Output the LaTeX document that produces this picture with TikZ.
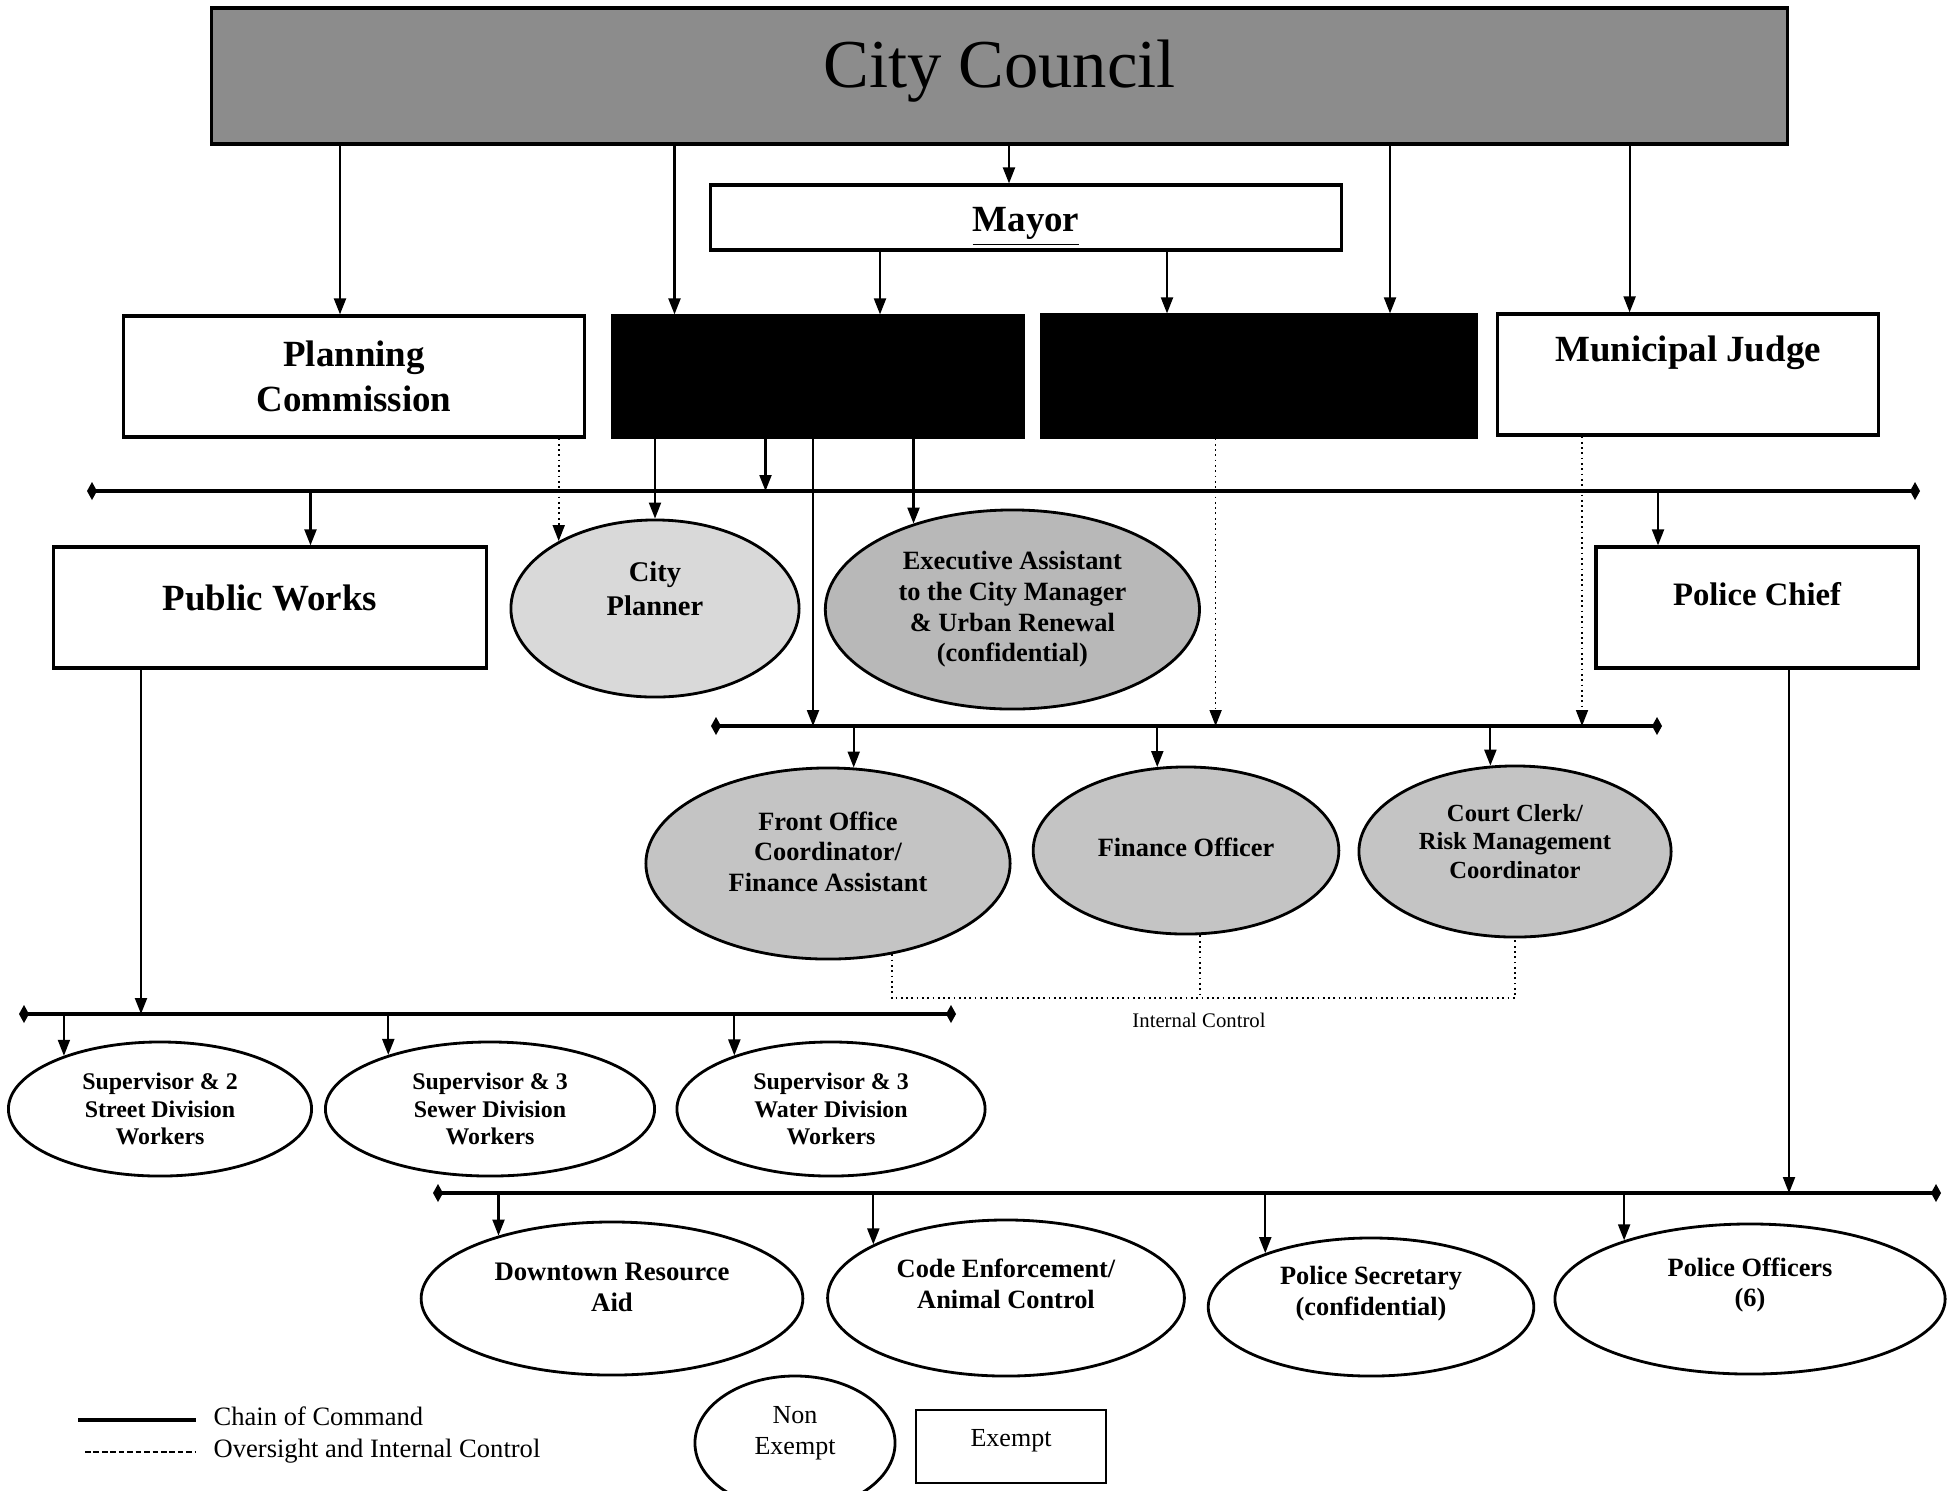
\documentclass[tikz,border=0pt]{standalone}
\usepackage{fontspec}
\setmainfont{Liberation Serif}
\usepackage{tikz}
\usetikzlibrary{arrows.meta, shapes.geometric}

\begin{document}
\begin{tikzpicture}[x=0.01cm, y=-0.01cm, >={Triangle[length=1.6mm, width=1.2mm]},
  box/.style={draw, line width=0.9pt, fill=white, inner sep=0pt, align=center, font=\bfseries\fontsize{10.5}{12.6}\selectfont},
  ell/.style={ellipse, draw, line width=0.8pt, fill=white, inner sep=0pt},
  lbl/.style={anchor=center, align=center, inner sep=0pt, font=\bfseries\fontsize{7.5}{8.7}\selectfont},
  cmd/.style={line width=0.6pt},
  oversight/.style={line width=0.5pt, densely dotted},
  bus/.style={line width=1.2pt, arrows={Diamond[length=1mm, width=1.8mm]-Diamond[length=1mm, width=1.8mm]}}]
  \useasboundingbox (0,0) rectangle (1955,1490);

  \node[box, fill=black!45, line width=1pt, minimum width=15.75cm, text height=0.79cm, text depth=0.57cm, font=\fontsize{19.5}{23}\selectfont] (council) at (999.5,76) {City Council};
  \node[box, minimum width=6.31cm, text height=0.467cm, text depth=0.183cm] (mayor) at (1026,217.5) {\underline{Mayor}};
  \node[box, minimum width=4.61cm, minimum height=1.21cm] (planning) at (354,376.5) {Planning\\Commission};
  \node[box, fill=black, minimum width=4.11cm, minimum height=1.21cm] (blacka) at (818,376.5) {};
  \node[box, fill=black, minimum width=4.34cm, minimum height=1.22cm] (blackb) at (1259,376) {};
  \node[box, minimum width=3.815cm, text height=0.475cm, text depth=0.735cm] (judge) at (1688,374.5) {Municipal Judge};

  \coordinate (bus1w) at (87,491);  \coordinate (bus1e) at (1920,491);
  \coordinate (bus2w) at (711,726); \coordinate (bus2e) at (1662,726);
  \coordinate (bus3w) at (19,1014); \coordinate (bus3e) at (956,1014);
  \coordinate (bus4w) at (433,1193); \coordinate (bus4e) at (1941,1193);
  \draw[bus] (bus1w) -- (bus1e);
  \draw[bus] (bus2w) -- (bus2e);
  \draw[bus] (bus3w) -- (bus3e);
  \draw[bus] (bus4w) -- (bus4e);

  \node[box, minimum width=4.33cm, text height=0.635cm, text depth=0.575cm] (publicworks) at (270,607.5) {Public Works};
  \node[box, minimum width=3.22cm, text height=0.585cm, text depth=0.625cm, font=\bfseries\fontsize{9.3}{11}\selectfont] (policechief) at (1757,607.5) {Police Chief};
  \node[ell, fill=black!15, minimum width=2.88cm, minimum height=1.77cm,
    label={[lbl, yshift=0.195cm, font=\bfseries\fontsize{8.1}{9.7}\selectfont]center:City\\Planner}] (cityplanner) at (655,608.5) {};
  \node[ell, fill=black!28, minimum width=3.74cm, minimum height=1.99cm,
    label={[lbl]center:Executive Assistant\\to the City Manager\\\& Urban Renewal\\(confidential)}] (exec) at (1012.4,609.5) {};

  \node[ell, fill=black!23, minimum width=3.64cm, minimum height=1.91cm,
    label={[lbl, yshift=0.12cm]center:Front Office\\Coordinator/\\Finance Assistant}] (frontoffice) at (828,863.5) {};
  \node[ell, fill=black!23, minimum width=3.055cm, minimum height=1.67cm,
    label={[lbl, yshift=0.03cm]center:Finance Officer}] (financeofficer) at (1186,850.5) {};
  \node[ell, fill=black!23, minimum width=3.12cm, minimum height=1.71cm,
    label={[lbl, yshift=0.1cm, font=\bfseries\fontsize{7}{8}\selectfont]center:Court Clerk/\\Risk Management\\Coordinator}] (courtclerk) at (1515,851.5) {};
  \coordinate (icjoin) at (1200,998);
  \node[inner sep=0pt, font=\fontsize{5.9}{7}\selectfont] (iclabel) at (1199,1020) {Internal Control};

  \node[ell, minimum width=3.03cm, minimum height=1.34cm,
    label={[lbl, font=\bfseries\fontsize{6.8}{7.8}\selectfont]center:Supervisor \& 2\\Street Division\\Workers}] (street) at (160,1109) {};
  \node[ell, minimum width=3.29cm, minimum height=1.34cm,
    label={[lbl, font=\bfseries\fontsize{6.8}{7.8}\selectfont]center:Supervisor \& 3\\Sewer Division\\Workers}] (sewer) at (490,1109) {};
  \node[ell, minimum width=3.08cm, minimum height=1.34cm,
    label={[lbl, font=\bfseries\fontsize{6.8}{7.8}\selectfont]center:Supervisor \& 3\\Water Division\\Workers}] (water) at (831,1109) {};

  \node[ell, minimum width=3.815cm, minimum height=1.53cm,
    label={[lbl, yshift=0.11cm, font=\bfseries\fontsize{7.6}{8.8}\selectfont]center:Downtown Resource\\Aid}] (downtown) at (612,1298.5) {};
  \node[ell, minimum width=3.566cm, minimum height=1.56cm,
    label={[lbl, yshift=0.14cm, font=\bfseries\fontsize{7.5}{8.8}\selectfont]center:Code Enforcement/\\Animal Control}] (codeenf) at (1006,1298) {};
  \node[ell, minimum width=3.254cm, minimum height=1.38cm,
    label={[lbl, yshift=0.13cm, font=\bfseries\fontsize{7.5}{8.8}\selectfont]center:Police Secretary\\(confidential)}] (policesec) at (1371,1307) {};
  \node[ell, minimum width=3.9cm, minimum height=1.5cm,
    label={[lbl, yshift=0.14cm, font=\bfseries\fontsize{7.5}{8.8}\selectfont]center:Police Officers\\(6)}] (policeoff) at (1750,1299) {};

  \node[ell, minimum width=2.0cm, minimum height=1.34cm,
    label={[lbl, yshift=0.1cm, font=\fontsize{7.4}{8.9}\selectfont]center:Non\\Exempt}] (nonexempt) at (795,1443) {};
  \node[box, line width=0.8pt, minimum width=1.9cm, text height=0.36cm, text depth=0.37cm, font=\fontsize{7.4}{8.9}\selectfont] (exempt) at (1011,1446.5) {Exempt};

  \coordinate (cmda) at (78,1420); \coordinate (cmdb) at (196,1420);
  \coordinate (ovsa) at (85,1452); \coordinate (ovsb) at (196,1452);
  \draw[line width=1.3pt] (cmda) -- (cmdb);
  \draw[line width=0.7pt, dash pattern=on 1.6pt off 0.8pt] (ovsa) -- (ovsb);
  \node[anchor=west, inner sep=0pt, font=\fontsize{7.55}{9}\selectfont] (cmdtxt) at (213,1416) {Chain of Command};
  \node[anchor=west, inner sep=0pt, font=\fontsize{7.55}{9}\selectfont] (ovstxt) at (213,1451) {Oversight and Internal Control};

  \draw[cmd, ->] (1009,0 |- council.south) -- (1009,0 |- mayor.north);
  \draw[cmd, ->] (340,0 |- council.south) -- (340,0 |- planning.north);
  \draw[cmd, ->] (674.5,0 |- council.south) -- (674.5,0 |- blacka.north);
  \draw[cmd, ->] (1390,0 |- council.south) -- (1390,0 |- blackb.north);
  \draw[cmd, ->] (1629.6,0 |- council.south) -- (1629.6,0 |- judge.north);
  \draw[cmd, ->] (880,0 |- mayor.south) -- (880,0 |- blacka.north);
  \draw[cmd, ->] (1167,0 |- mayor.south) -- (1167,0 |- blackb.north);

  \draw[cmd, ->] (cityplanner.north |- blacka.south) -- (cityplanner.north);
  \draw[cmd, ->] (765.5,0 |- blacka.south) -- (765.5,0 |- bus1w);
  \draw[cmd, ->] (813,0 |- blacka.south) -- (813,0 |- bus2w);
  \draw[cmd, ->] (exec.139 |- blacka.south) -- (exec.139);
  \draw[oversight, ->] (cityplanner.145 |- planning.south) -- (cityplanner.145);
  \draw[oversight, ->] (1215.6,0 |- blackb.south) -- (1215.6,0 |- bus2w);
  \draw[oversight, ->] (1582,0 |- judge.south) -- (1582,0 |- bus2w);

  \draw[cmd, ->] (310.5,0 |- bus1w) -- (310.5,0 |- publicworks.north);
  \draw[cmd, ->] (1658,0 |- bus1w) -- (1658,0 |- policechief.north);

  \draw[cmd, ->] (frontoffice.75 |- bus2w) -- (frontoffice.75);
  \draw[cmd, ->] (financeofficer.109 |- bus2w) -- (financeofficer.109);
  \draw[cmd, ->] (courtclerk.106 |- bus2w) -- (courtclerk.106);
  \draw[oversight] (frontoffice.-55) |- (icjoin) -| (courtclerk.south);
  \draw[oversight] (icjoin |- financeofficer.south) -- (icjoin);

  \draw[cmd, ->] (141,0 |- publicworks.south) -- (141,0 |- bus3w);
  \draw[cmd, ->] (street.151 |- bus3w) -- (street.151);
  \draw[cmd, ->] (sewer.152 |- bus3w) -- (sewer.152);
  \draw[cmd, ->] (water.151 |- bus3w) -- (water.151);

  \draw[cmd, ->] (1789,0 |- policechief.south) -- (1789,0 |- bus4w);
  \draw[cmd, ->] (downtown.151 |- bus4w) -- (downtown.151);
  \draw[cmd, ->] (codeenf.158 |- bus4w) -- (codeenf.158);
  \draw[cmd, ->] (policesec.153 |- bus4w) -- (policesec.153);
  \draw[cmd, ->] (policeoff.155 |- bus4w) -- (policeoff.155);
\end{tikzpicture}
\end{document}
